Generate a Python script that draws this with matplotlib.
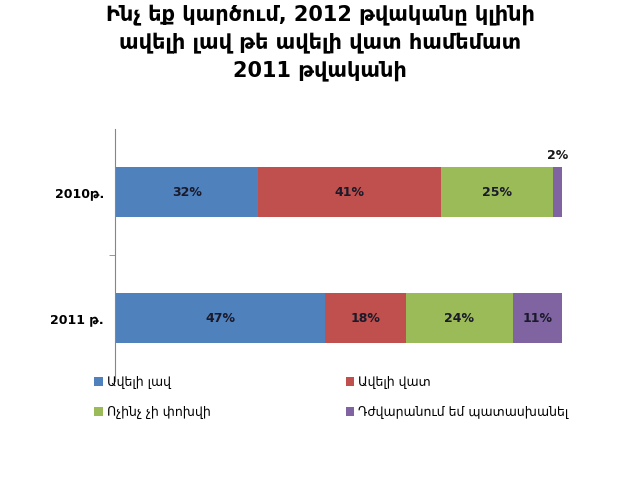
#!/usr/bin/env python3
"""Stacked horizontal bar: expectations for 2012 vs 2011."""
import matplotlib.pyplot as plt
import numpy as np

years = ['2010թ.', '2011 թ.']
series = ['Ավելի լավ', 'Ավելի վատ', 'Ոչինչ չի փոխվի', 'Դժվարանում եմ պատասխանել']
values = {
    'Ավելի լավ': [32, 47],
    'Ավելի վատ': [41, 18],
    'Ոչինչ չի փոխվի': [25, 24],
    'Դժվարանում եմ պատասխանել': [2, 11],
}
colors = ['#4F81BD', '#C0504D', '#9BBB59', '#8064A2']
title = 'Ինչ եք կարծում, 2012 թվականը կլինի\nավելի լավ թե ավելի վատ համեմատ\n2011 թվականի'

fig = plt.figure(figsize=(6.4, 4.8), dpi=100)
ax = fig.add_axes([0.18, 0.206, 0.698, 0.525])

ypos = np.arange(len(years))
left = np.zeros(len(years))
handles = []
for name, c in zip(series, colors):
    v = np.array(values[name], dtype=float)
    h = ax.barh(ypos, v, left=left, height=0.4, color=c, label=name)
    handles.append(h)
    for i, val in enumerate(v):
        if val >= 5:
            ax.text(left[i] + val / 2, ypos[i], f'{int(val)}%', ha='center', va='center',
                    fontsize=9, fontweight='bold', color='#1a1a2a')
        else:
            ax.text(left[i] + val / 2, ypos[i] - 0.2 - 0.04, f'{int(val)}%', ha='center',
                    va='bottom', fontsize=9, fontweight='bold', color='#1a1a1a')
    left += v

ax.set_xlim(0, 100)
ax.set_ylim(1.5, -0.5)
ax.set_yticks(ypos)
ax.set_yticklabels(years, fontsize=9, fontweight='bold')
ax.tick_params(axis='y', length=0, pad=8)
ax.set_yticks([0.5], minor=True)
ax.tick_params(axis='y', which='minor', length=4, color='#868686')
ax.set_xticks([])
for s in ['top', 'right', 'bottom']:
    ax.spines[s].set_visible(False)
ax.spines['left'].set_color('#868686')

fig.text(0.5, 0.992, title, ha='center', va='top', fontsize=15, fontweight='bold',
         linespacing=1.45)

# legend filled row by row like the original
order = [0, 2, 1, 3]
fig.legend(handles=[handles[k] for k in order], labels=[series[k] for k in order],
           loc='upper left', bbox_to_anchor=(0.13, 0.24),
           ncol=2, frameon=False, fontsize=9, handlelength=0.7, handleheight=0.7,
           handletextpad=0.3, columnspacing=10.8, labelspacing=1.35)

fig.savefig('out.png', dpi=100)
